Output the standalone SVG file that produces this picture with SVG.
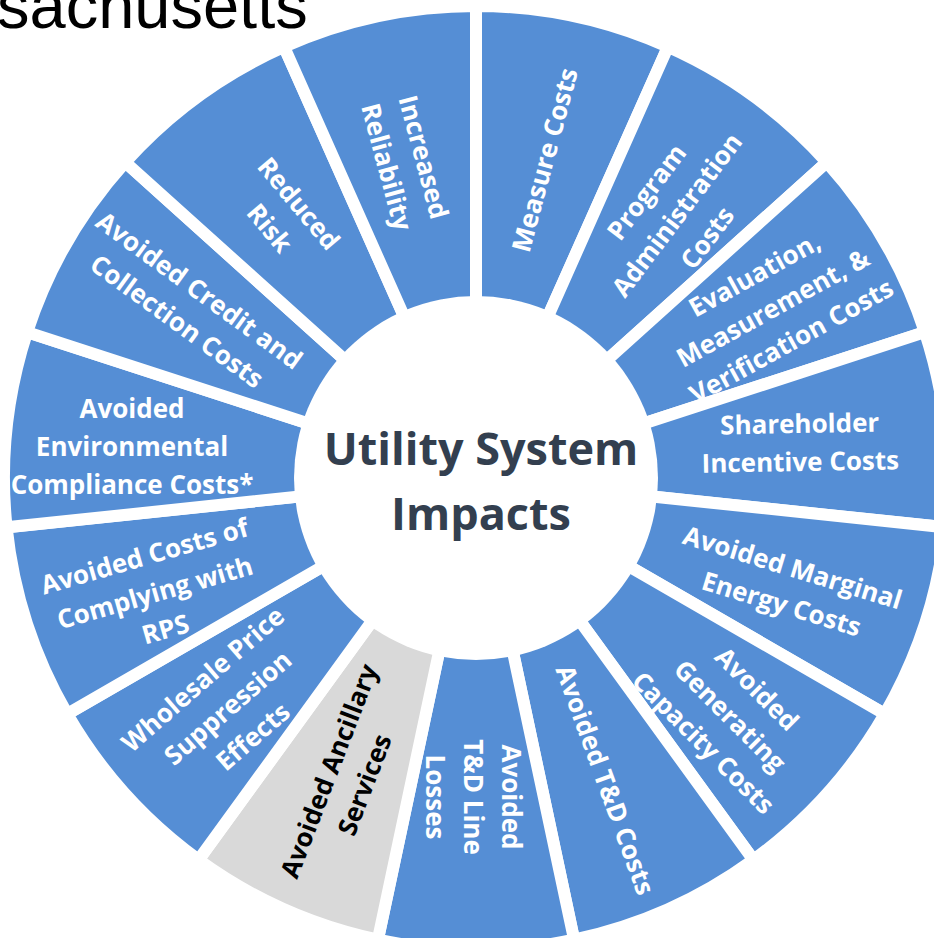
<svg xmlns="http://www.w3.org/2000/svg" width="934" height="938" viewBox="0 0 934 938">
<style>
.seg{stroke:#ffffff;stroke-width:12;stroke-linejoin:miter}
.blue{fill:#558ED5}
.gray{fill:#D9D9D9}
.lbl{font-family:"Open Sans","Noto Sans","DejaVu Sans",sans-serif;font-weight:700;font-size:26px;fill:#ffffff;text-anchor:middle}
.dark{fill:#000000}
.hub{font-family:"Open Sans","Noto Sans","DejaVu Sans",sans-serif;font-weight:700;font-size:45px;fill:#333F4F;text-anchor:middle}
.title{font-family:"Liberation Sans",Arial,sans-serif;font-size:65px;fill:#000000}
</style>
<rect width="934" height="938" fill="#ffffff"/>
<g id="segments">
<g id="measure-costs"><path class="seg blue" d="M476,478 L476,6 A472,472 0 0 1 667.98,46.81 Z"/></g>
<g id="program-administration-costs"><path class="seg blue" d="M476,478 L667.98,46.81 A472,472 0 0 1 826.76,162.17 Z"/></g>
<g id="emv-costs"><path class="seg blue" d="M476,478 L826.76,162.17 A472,472 0 0 1 924.90,332.14 Z"/></g>
<g id="shareholder-incentive-costs"><path class="seg blue" d="M476,478 L924.90,332.14 A472,472 0 0 1 945.41,527.34 Z"/></g>
<g id="avoided-marginal-energy-costs"><path class="seg blue" d="M476,478 L945.41,527.34 A472,472 0 0 1 884.76,714 Z"/></g>
<g id="avoided-generating-capacity-costs"><path class="seg blue" d="M476,478 L884.76,714 A472,472 0 0 1 753.43,859.86 Z"/></g>
<g id="avoided-td-costs"><path class="seg blue" d="M476,478 L753.43,859.86 A472,472 0 0 1 574.13,939.69 Z"/></g>
<g id="avoided-td-line-losses"><path class="seg blue" d="M476,478 L574.13,939.69 A472,472 0 0 1 377.87,939.69 Z"/></g>
<g id="avoided-ancillary-services"><path class="seg gray" d="M476,478 L377.87,939.69 A472,472 0 0 1 198.57,859.86 Z"/></g>
<g id="wholesale-price-suppression"><path class="seg blue" d="M476,478 L198.57,859.86 A472,472 0 0 1 67.24,714 Z"/></g>
<g id="avoided-rps-costs"><path class="seg blue" d="M476,478 L67.24,714 A472,472 0 0 1 6.59,527.34 Z"/></g>
<g id="avoided-environmental-compliance"><path class="seg blue" d="M476,478 L6.59,527.34 A472,472 0 0 1 27.10,332.14 Z"/></g>
<g id="avoided-credit-collection"><path class="seg blue" d="M476,478 L27.10,332.14 A472,472 0 0 1 125.24,162.17 Z"/></g>
<g id="reduced-risk"><path class="seg blue" d="M476,478 L125.24,162.17 A472,472 0 0 1 284.02,46.81 Z"/></g>
<g id="increased-reliability"><path class="seg blue" d="M476,478 L284.02,46.81 A472,472 0 0 1 476,6 Z"/></g>
</g>
<g id="hub">
<circle cx="476" cy="478" r="182" fill="#ffffff"/>
<text class="hub" x="481" y="465">Utility System</text>
<text class="hub" x="481" y="530">Impacts</text>
</g>
<g id="labels">
<g id="label-measure" transform="translate(545,160) rotate(-75)"><text class="lbl"><tspan x="0" y="9">Measure Costs</tspan></text></g>
<g id="label-program" transform="translate(677,215) rotate(-53)"><text class="lbl"><tspan x="0" y="-29">Program</tspan><tspan x="0" y="9">Administration</tspan><tspan x="0" y="47">Costs</tspan></text></g>
<g id="label-emv" transform="translate(773,308) rotate(-29)"><text class="lbl"><tspan x="0" y="-29">Evaluation,</tspan><tspan x="0" y="9">Measurement, &amp;</tspan><tspan x="0" y="47">Verification Costs</tspan></text></g>
<g id="label-shareholder" transform="translate(800,443) rotate(-1)"><text class="lbl"><tspan x="0" y="-10">Shareholder</tspan><tspan x="0" y="28">Incentive Costs</tspan></text></g>
<g id="label-marginal" transform="translate(787,586) rotate(17)"><text class="lbl"><tspan x="0" y="-10">Avoided Marginal</tspan><tspan x="0" y="28">Energy Costs</tspan></text></g>
<g id="label-generating" transform="translate(730,716) rotate(45)"><text class="lbl"><tspan x="0" y="-29">Avoided</tspan><tspan x="0" y="9">Generating</tspan><tspan x="0" y="47">Capacity Costs</tspan></text></g>
<g id="label-td" transform="translate(605,780) rotate(70)"><text class="lbl"><tspan x="0" y="9">Avoided T&amp;D Costs</tspan></text></g>
<g id="label-lines" transform="translate(473,797) rotate(90)"><text class="lbl"><tspan x="0" y="-29">Avoided</tspan><tspan x="0" y="9">T&amp;D Line</tspan><tspan x="0" y="47">Losses</tspan></text></g>
<g id="label-ancillary" transform="translate(347,778) rotate(-69)"><text class="lbl dark"><tspan x="0" y="-10">Avoided Ancillary</tspan><tspan x="0" y="28">Services</tspan></text></g>
<g id="label-wholesale" transform="translate(228,708) rotate(-41)"><text class="lbl"><tspan x="0" y="-29">Wholesale Price</tspan><tspan x="0" y="9">Suppression</tspan><tspan x="0" y="47">Effects</tspan></text></g>
<g id="label-rps" transform="translate(155,593) rotate(-16)"><text class="lbl"><tspan x="0" y="-29">Avoided Costs of</tspan><tspan x="0" y="9">Complying with</tspan><tspan x="0" y="47">RPS</tspan></text></g>
<g id="label-environmental" transform="translate(132,447)"><text class="lbl"><tspan x="0" y="-29">Avoided</tspan><tspan x="0" y="9">Environmental</tspan><tspan x="0" y="47">Compliance Costs*</tspan></text></g>
<g id="label-credit" transform="translate(188,306) rotate(36)"><text class="lbl"><tspan x="0" y="-10">Avoided Credit and</tspan><tspan x="0" y="28">Collection Costs</tspan></text></g>
<g id="label-reduced" transform="translate(284,216) rotate(50)"><text class="lbl"><tspan x="0" y="-10">Reduced</tspan><tspan x="0" y="28">Risk</tspan></text></g>
<g id="label-increased" transform="translate(405,162) rotate(75)"><text class="lbl"><tspan x="0" y="-10">Increased</tspan><tspan x="0" y="28">Reliability</tspan></text></g>
</g>
<text class="title" x="-3" y="28">sachusetts</text>
</svg>
